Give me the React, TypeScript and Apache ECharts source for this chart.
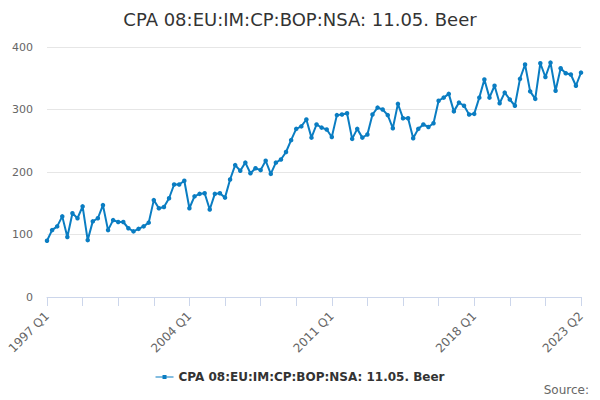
import React, { useEffect, useRef } from "react";
import * as echarts from "echarts";

const startYear = 1997;
const quarterCount = 106;
const categories: string[] = Array.from({ length: quarterCount }, (_, i) => `${startYear + Math.floor(i / 4)} Q${(i % 4) + 1}`);

const beerValues: number[] = [
  90, 107, 113, 129, 96, 134, 126, 145, 91, 121,
  126, 147, 107, 123, 120, 120, 110, 105, 109, 113,
  119, 155, 142, 144, 158, 180, 180, 186, 142, 161,
  165, 166, 140, 165, 166, 159, 188, 211, 202, 215,
  198, 206, 203, 218, 197, 215, 220, 232, 251, 269,
  273, 284, 255, 276, 271, 268, 256, 291, 292, 294,
  253, 269, 255, 260, 292, 303, 300, 291, 270, 309,
  286, 286, 254, 269, 276, 272, 278, 314, 319, 325,
  297, 311, 306, 292, 293, 319, 348, 319, 338, 310,
  327, 316, 306, 349, 372, 329, 317, 374, 352, 375,
  330, 366, 358, 356, 338, 359,
];

const yTicks: number[] = [0, 100, 200, 300, 400];
const titleText = "CPA 08:EU:IM:CP:BOP:NSA: 11.05. Beer";
const seriesName = "CPA 08:EU:IM:CP:BOP:NSA: 11.05. Beer";
const sourceText = "Source:";

const FONT = "DejaVu Sans, Verdana, sans-serif";

export default function App() {
  const ref = useRef<HTMLDivElement>(null);
  useEffect(() => {
    if (!ref.current) return;
    const chart = echarts.init(ref.current, undefined, { renderer: "svg" });
    const last = categories.length - 1;
    chart.setOption({
      animation: false,
      backgroundColor: "#ffffff",
      textStyle: { fontFamily: FONT },
      title: {
        text: titleText,
        left: "center",
        top: 5,
        textStyle: { fontSize: 18, fontWeight: "normal", color: "#333333", fontFamily: FONT },
      },
      legend: {
        top: 366,
        left: "center",
        itemWidth: 18,
        itemHeight: 10,
        textStyle: { fontSize: 12, fontWeight: "bold", color: "#333333", fontFamily: FONT },
        data: [{ name: seriesName, icon: "path://M0,4.5 L18,4.5 L18,5.5 L0,5.5 Z M7,3 L11,3 L11,7 L7,7 Z" }],
      },
      graphic: [
        {
          type: "text",
          right: 11,
          top: 384,
          style: { text: sourceText, fontSize: 12, fill: "#666666", fontFamily: FONT },
        },
      ],
      grid: { left: 47, right: 19, top: 47, bottom: 103, containLabel: false },
      xAxis: {
        type: "category",
        data: categories,
        boundaryGap: false,
        axisLine: { lineStyle: { color: "#ccd6eb", width: 1 } },
        axisTick: {
          show: true,
          length: 9,
          lineStyle: { color: "#ccd6eb" },
          interval: (i: number) => i % 7 === 0,
        },
        axisLabel: {
          rotate: 45,
          fontSize: 12,
          color: "#666666",
          fontFamily: FONT,
          margin: 17,
          interval: (i: number) => i % 28 === 0 || i === last,
          showMaxLabel: true,
        },
        splitLine: { show: false },
      },
      yAxis: {
        type: "value",
        min: yTicks[0],
        max: yTicks[yTicks.length - 1],
        interval: 100,
        axisLine: { show: false },
        axisTick: { show: false },
        axisLabel: { fontSize: 11, color: "#666666", fontFamily: FONT, margin: 14 },
        splitLine: { lineStyle: { color: "#e6e6e6", width: 1 } },
      },
      series: [
        {
          name: seriesName,
          type: "line",
          data: beerValues,
          symbol: "circle",
          symbolSize: 4.5,
          showAllSymbol: true,
          itemStyle: { color: "#0a7dc2" },
          lineStyle: { color: "#0a7dc2", width: 2 },
        },
      ],
    });
    return () => chart.dispose();
  }, []);
  return <div ref={ref} style={{ position: "absolute", left: 0, top: 0, width: 600, height: 400 }} />;
}
